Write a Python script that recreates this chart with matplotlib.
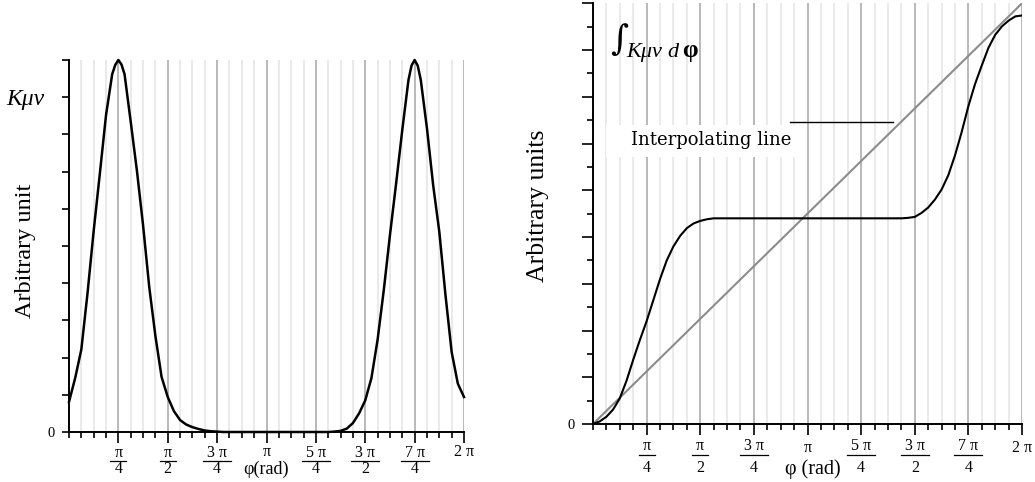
import numpy as np
import matplotlib
matplotlib.use("Agg")
import matplotlib.pyplot as plt
from matplotlib.lines import Line2D
from matplotlib.patches import Rectangle
from matplotlib.ticker import MultipleLocator
from matplotlib.transforms import blended_transform_factory

plt.rcParams['font.family'] = ['Liberation Serif', 'DejaVu Serif']

# ---------------- data ----------------
# phi positions in units of pi/32 (0 .. 64 = 2*pi), extra half steps at the peaks
K_phi_units = ([0, 1, 2, 3, 4, 5, 6, 7, 7.5, 8, 8.5, 9] + list(range(10, 56))
               + [55.5, 56, 56.5] + list(range(57, 65)))
K_munu = [0.081, 0.145, 0.222, 0.373, 0.541, 0.695, 0.852, 0.962, 0.987, 1.000, 0.988, 0.962,
          0.834, 0.703, 0.556, 0.390, 0.258, 0.148, 0.094, 0.056, 0.032, 0.020,
          0.013, 0.008, 0.004, 0.002, 0.001,
          0, 0, 0, 0, 0, 0, 0, 0, 0, 0, 0, 0, 0, 0, 0, 0, 0,
          0.000, 0.001, 0.003, 0.009, 0.024, 0.050, 0.085, 0.145, 0.248, 0.381,
          0.529, 0.668, 0.812, 0.946, 0.985, 1.000, 0.985, 0.946, 0.816, 0.664, 0.538, 0.368,
          0.215, 0.130, 0.094]

int_phi_units = list(range(65))
K_integral = [0.00, 0.11, 0.31, 0.62, 1.10, 1.85, 2.75, 3.60, 4.40, 5.30,
              6.20, 7.00, 7.60, 8.05, 8.38, 8.58, 8.69, 8.76, 8.80,
              8.80, 8.80, 8.80, 8.80, 8.80, 8.80, 8.80, 8.80, 8.80, 8.80,
              8.80, 8.80, 8.80, 8.80, 8.80, 8.80, 8.80, 8.80, 8.80, 8.80,
              8.80, 8.80, 8.80, 8.80, 8.80, 8.80, 8.80, 8.80,
              8.82, 8.86, 9.03, 9.26, 9.60, 10.03, 10.64, 11.49, 12.49, 13.60,
              14.55, 15.34, 16.10, 16.65, 17.01, 17.26, 17.44, 17.48]
interp_x = [0.0, 2 * np.pi]
interp_y = [0.0, 18.0]

tick_pos = [np.pi / 4 * k for k in range(1, 9)]
tick_num = ['π', 'π', '3 π', 'π', '5 π', '3 π', '7 π', '2 π']
tick_den = ['4', '2', '4', '', '4', '2', '4', '']

phi_K = np.array(K_phi_units) * np.pi / 32
phi_I = np.array(int_phi_units) * np.pi / 32

W, H = 1035, 482
fig = plt.figure(figsize=(W / 100, H / 100), dpi=100)


def fx(x):
    return x / W


def fy(y):
    return 1 - y / H


def style_axes(ax, ymax, yminor, ymajor, ymajor_len):
    ax.set_xlim(0, 2 * np.pi)
    ax.set_ylim(0, ymax)
    for s in ['top', 'right']:
        ax.spines[s].set_visible(False)
    for s in ['left', 'bottom']:
        ax.spines[s].set_linewidth(1.4)
        ax.spines[s].set_zorder(5)
    ax.xaxis.set_minor_locator(MultipleLocator(np.pi / 16))
    ax.set_xticks(tick_pos, [''] * len(tick_pos))
    ax.tick_params(axis='x', which='major', length=8, width=1.2)
    ax.tick_params(axis='x', which='minor', length=4, width=1.2)
    ax.yaxis.set_minor_locator(MultipleLocator(yminor))
    n = int(round(ymax / ymajor))
    ax.set_yticks([v * ymajor for v in range(n + 1)], ['0'] + [''] * n)
    ax.tick_params(axis='y', which='major', length=ymajor_len, width=1.2, pad=5, labelsize=10.5)
    ax.tick_params(axis='y', which='minor', length=4, width=1.2)
    ax.grid(True, axis='x', which='major', color='#a6a6a6', lw=1.1, zorder=0)
    ax.grid(True, axis='x', which='minor', color='#e4e4e4', lw=1.1, zorder=0)
    ax.set_axisbelow(True)


def frac_labels(ax, ax_w_px, num_base, line_y, den_base, single_base, fs=11.5):
    tr = blended_transform_factory(ax.transData, fig.transFigure)
    for pos, num, den in zip(tick_pos, tick_num, tick_den):
        if den:
            ax.text(pos, fy(num_base), num, transform=tr, ha='center', va='baseline',
                    fontsize=fs, clip_on=False)
            ax.text(pos, fy(den_base), den, transform=tr, ha='center', va='baseline',
                    fontsize=fs, clip_on=False)
            half_px = 8 if len(num) == 1 else 14
            hw = half_px / ax_w_px * 2 * np.pi
            ax.add_line(Line2D([pos - hw, pos + hw], [fy(line_y), fy(line_y)], transform=tr,
                               color='black', lw=0.9, clip_on=False))
        else:
            ax.text(pos, fy(single_base), num, transform=tr, ha='center', va='baseline',
                    fontsize=fs, clip_on=False)


# ---------------- left chart ----------------
ax1 = fig.add_axes([fx(69), fy(432), fx(464) - fx(69), fy(60) - fy(432)])
style_axes(ax1, 1.0, 0.1, 0.1, 5)
ax1.plot(phi_K, K_munu, color='black', lw=1.8, zorder=3, clip_on=False)
frac_labels(ax1, 395, 457, 460.5, 473, 456)
ax1.text(np.pi, fy(474), 'φ(rad)', transform=blended_transform_factory(ax1.transData, fig.transFigure),
         ha='center', va='baseline', fontsize=13)
fig.text(fx(25), fy(251), 'Arbitrary unit', rotation=90, ha='center', va='center', fontsize=17.5)
fig.text(fx(25), fy(100), 'Kμν', style='italic', ha='center', va='center', fontsize=17)

# ---------------- right chart ----------------
ax2 = fig.add_axes([fx(593), fy(424), fx(1022) - fx(593), fy(3.3) - fy(424)])
style_axes(ax2, 18.0, 1.0, 2.0, 8)
ax2.plot(interp_x, interp_y, color='#8c8c8c', lw=1.5, zorder=3)
ax2.plot(phi_I, K_integral, color='black', lw=1.5, zorder=4)
frac_labels(ax2, 429, 450, 455, 471.5, 452)
ax2.text(3.222, fy(474), 'φ (rad)', transform=blended_transform_factory(ax2.transData, fig.transFigure),
         ha='center', va='baseline', fontsize=14.5)
fig.text(fx(538), fy(206), 'Arbitrary units', rotation=90, ha='center', va='center', fontsize=18.5)

# integral label
fig.text(fx(610), fy(50), '∫', ha='left', va='baseline', fontsize=25, family='DejaVu Serif')
fig.text(fx(626), fy(57), 'Kμν', style='italic', ha='left', va='baseline', fontsize=16)
fig.text(fx(667), fy(57), 'd', style='italic', ha='left', va='baseline', fontsize=16)
fig.text(fx(682), fy(57), 'φ', weight='bold', ha='left', va='baseline', fontsize=18)

# interpolating line annotation
fig.patches.append(Rectangle((fx(606), fy(157)), fx(797) - fx(606), fy(125) - fy(157),
                             transform=fig.transFigure, facecolor='white', edgecolor='none',
                             zorder=1))
fig.text(fx(711), fy(140), 'Interpolating line', ha='center', va='center', fontsize=13,
         family='DejaVu Serif', zorder=3)
fig.lines.append(Line2D([fx(790), fx(893)], [fy(122), fy(122)], transform=fig.transFigure,
                        color='black', lw=1.0, zorder=3))

fig.savefig('out.png', dpi=100)
